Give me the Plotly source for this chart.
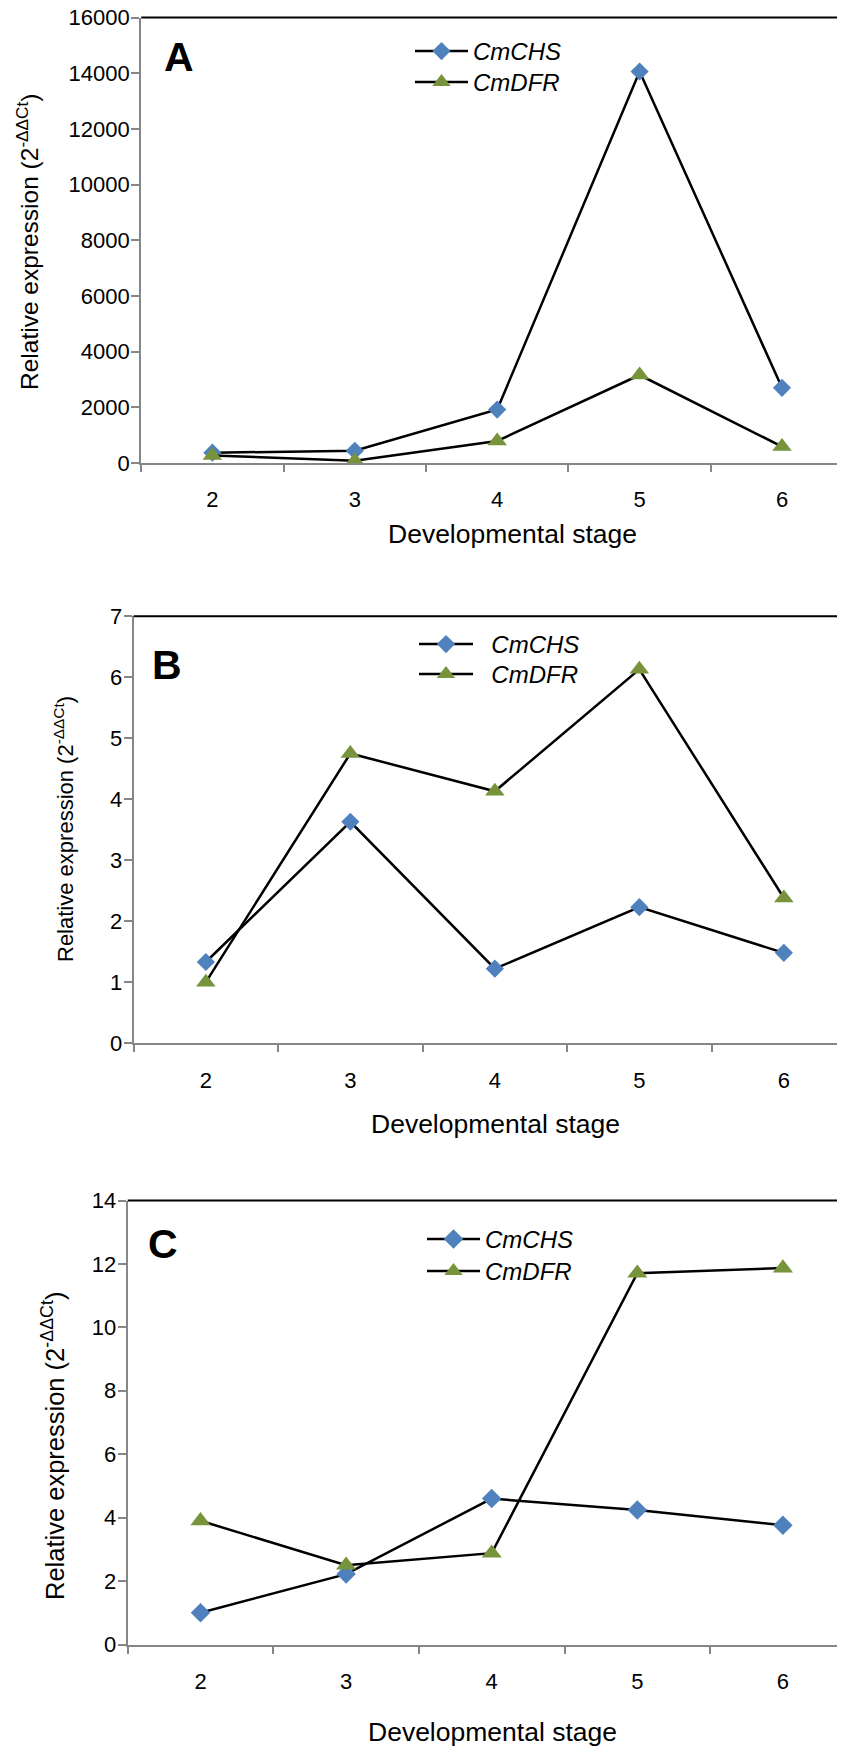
import plotly.graph_objects as go

stages = ['2', '3', '4', '5', '6']
a_chs = [370, 440, 1920, 14060, 2700]
a_dfr = [270, 80, 790, 3160, 590]
b_chs = [1.33, 3.63, 1.22, 2.23, 1.48]
b_dfr = [1.0, 4.75, 4.13, 6.13, 2.38]
c_chs = [1.0, 2.22, 4.6, 4.24, 3.76]
c_dfr = [3.9, 2.5, 2.88, 11.71, 11.87]
series_names = ['CmCHS', 'CmDFR']
panel_labels = ['A', 'B', 'C']
y_title = 'Relative expression (2<sup>-ΔΔCt</sup>)'
x_title = 'Developmental stage'

# page is drawn with the browser's default 8px body margin
OFF = 8
PW, PH = 845, 1748
W, H = PW - OFF, PH - OFF
FONT = 'Arial, Liberation Sans, sans-serif'
BLUE = '#4F81BD'
GREEN = '#77933C'
AXC = '#868686'

def py(px):
    return 1 - (px - OFF) / H

def pxx(px):
    return (px - OFF) / W

panels = [
    dict(chs=a_chs, dfr=a_dfr, top=17.5, bot=463.0, left=141.2, catw=142.4,
         yr=[0, 16000], dt=2000, ds=14, ts=17, ytf=24.5,
         lab=(179, 57), ytx=(28, 242), xtx=(513, 534),
         leg=[(410, 29, 53, ''), (410, 60, 53, '')]),
    dict(chs=b_chs, dfr=b_dfr, top=616.3, bot=1043.1, left=133.6, catw=144.5,
         yr=[0, 7], dt=1, ds=14, ts=17, ytf=22,
         lab=(167, 665), ytx=(64, 829), xtx=(495, 1124),
         leg=[(414, 622, 54, '\u00a0\u00a0'), (414, 652, 54, '\u00a0\u00a0')]),
    dict(chs=c_chs, dfr=c_dfr, top=1200.5, bot=1644.5, left=127.7, catw=145.6,
         yr=[0, 14], dt=2, ds=15, ts=17.5, ytf=25.5,
         lab=(163, 1244), ytx=(53, 1446), xtx=(492, 1732),
         leg=[(422, 1217, 53, ''), (422, 1249, 53, '')]),
]

fig = go.Figure()
layout = dict(width=W, height=H, autosize=False, showlegend=True,
              margin=dict(l=0, r=0, t=0, b=0, autoexpand=False),
              paper_bgcolor='white', plot_bgcolor='white',
              font=dict(family=FONT, size=22, color='black'),
              annotations=[], shapes=[])

leg_idx = 0
for i, p in enumerate(panels):
    n = '' if i == 0 else str(i + 1)
    xa, ya = 'x' + n, 'y' + n
    vals = [p['chs'], p['dfr']]
    syms = ['diamond', 'triangle-up']
    sizes = [p['ds'], p['ts']]
    cols = [BLUE, GREEN]
    for k in range(2):
        leg_idx += 1
        lname = 'legend' if leg_idx == 1 else 'legend%d' % leg_idx
        lx, ly, iw, pad = p['leg'][k]
        fig.add_trace(go.Scatter(x=stages, y=vals[k], name=pad + series_names[k],
                                 mode='lines+markers', xaxis=xa, yaxis=ya, legend=lname,
                                 showlegend=True,
                                 line=dict(color='black', width=2.5),
                                 marker=dict(symbol=syms[k], size=sizes[k], color=cols[k])))
        layout[lname] = dict(x=pxx(lx), y=py(ly), xanchor='left', yanchor='top',
                             bgcolor='rgba(0,0,0,0)', borderwidth=0, visible=True,
                             font=dict(size=24, family=FONT, color='black', style='italic'),
                             itemwidth=iw, itemsizing='trace')
    ncat = (PW - p['left']) / p['catw']
    layout['xaxis' + n] = dict(domain=[pxx(p['left']), 1], type='category',
                               range=[-0.5, -0.5 + ncat], tickson='boundaries',
                               showline=True, linecolor=AXC, linewidth=2,
                               ticks='outside', ticklen=7, tickwidth=2, tickcolor=AXC,
                               ticklabelstandoff=16, showgrid=False, zeroline=False,
                               anchor=ya, fixedrange=True, automargin=False,
                               ticklabeloverflow='allow',
                               tickfont=dict(size=22, color='black', family=FONT))
    layout['yaxis' + n] = dict(domain=[py(p['bot']), py(p['top'])], range=p['yr'],
                               dtick=p['dt'], tick0=0, tickformat='d',
                               showline=True, linecolor=AXC, linewidth=2,
                               ticks='outside', ticklen=8, tickwidth=2, tickcolor=AXC,
                               ticklabelstandoff=-3,
                               showgrid=False, zeroline=False, anchor=xa, automargin=False,
                               ticklabeloverflow='allow',
                               tickfont=dict(size=22, color='black', family=FONT))
    layout['shapes'].append(dict(type='line', xref=xa + ' domain', yref=ya + ' domain',
                                 x0=0, x1=1, y0=1, y1=1,
                                 line=dict(color='black', width=2)))
    layout['annotations'].append(dict(text='<b>%s</b>' % panel_labels[i], xref='paper', yref='paper',
                                      x=pxx(p['lab'][0]), y=py(p['lab'][1]),
                                      xanchor='center', yanchor='middle', showarrow=False,
                                      font=dict(size=41, family=FONT, color='black')))
    layout['annotations'].append(dict(text=y_title, xref='paper', yref='paper',
                                      x=pxx(p['ytx'][0]), y=py(p['ytx'][1]), textangle=-90,
                                      xanchor='center', yanchor='middle', showarrow=False,
                                      font=dict(size=p['ytf'], family=FONT, color='black')))
    layout['annotations'].append(dict(text=x_title, xref='paper', yref='paper',
                                      x=pxx(p['xtx'][0]), y=py(p['xtx'][1]),
                                      xanchor='center', yanchor='middle', showarrow=False,
                                      font=dict(size=26.5, family=FONT, color='black')))

fig.update_layout(**layout)
fig.write_html('out.html')
